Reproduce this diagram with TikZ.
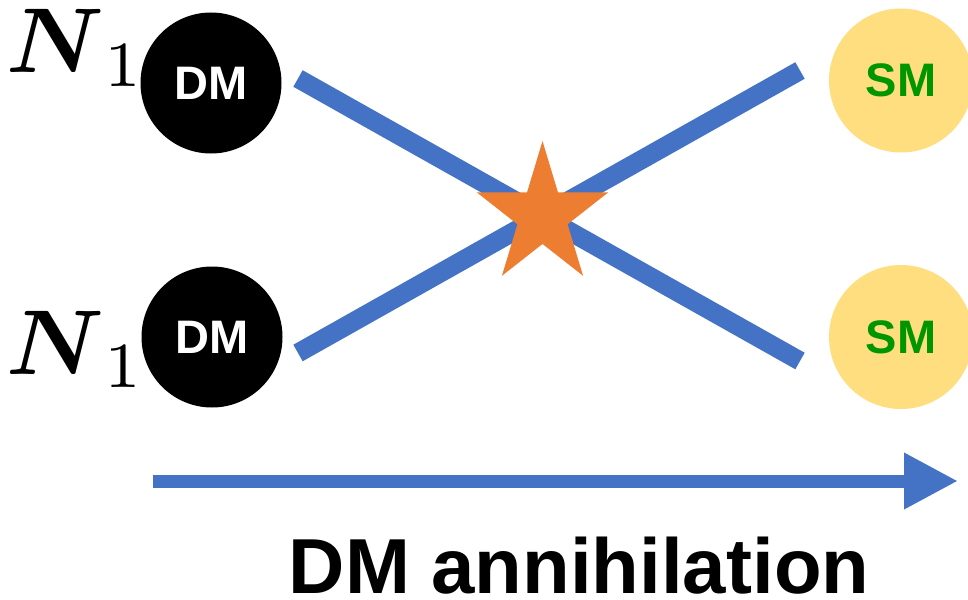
\documentclass[tikz,border=0pt]{standalone}
\usepackage{amsmath}
\usepackage{graphicx}
\usepackage{fontspec}
\newfontfamily\arialfont{Liberation Sans}
\usetikzlibrary{arrows.meta}
\definecolor{lineblue}{HTML}{4472C4}
\definecolor{starorange}{HTML}{ED7D31}
\definecolor{smyellow}{HTML}{FFDE80}
\definecolor{smgreen}{HTML}{009600}
\begin{document}
\begin{tikzpicture}[x=1pt,y=-1pt,
  dmball/.style={circle,fill=black,text=white,minimum size=141pt,inner sep=0pt,
    font=\arialfont\bfseries\fontsize{47}{47}\selectfont},
  smball/.style={circle,fill=smyellow,text=smgreen,minimum size=144pt,inner sep=0pt,
    font=\arialfont\bfseries\fontsize{47}{47}\selectfont},
  nlabel/.style={inner sep=0pt,anchor=base west},
  blueline/.style={draw=lineblue,line width=19pt,line cap=butt},
  timearrow/.style={draw=lineblue,line width=13pt,-{Triangle[length=54pt,width=53pt]}},
  titletext/.style={inner sep=0pt,anchor=base,font=\arialfont\bfseries\fontsize{78}{78}\selectfont}
]
\useasboundingbox (0,0) rectangle (968,599);
% particles
\node[dmball] (dm1) at (211,83) {DM};
\node[dmball] (dm2) at (212,337) {DM};
\node[smball] (sm1) at (901,80.5) {SM};
\node[smball] (sm2) at (901,337) {SM};
% labels
\node[nlabel] (n1) at (6,73) {\scalebox{9.2}{$\boldsymbol{N}_1$}};
\node[nlabel] (n2) at (6,374) {\scalebox{9.2}{$\boldsymbol{N}_1$}};
% crossing lines
\coordinate (a1) at (298,78.5);
\coordinate (b1) at (800,361);
\coordinate (a2) at (298,353);
\coordinate (b2) at (800,70.5);
\draw[blueline] (a1) -- (b1);
\draw[blueline] (a2) -- (b2);
% star vertex
\coordinate (vtx) at (542.5,215.5);
\begin{scope}[shift={(vtx)},xscale=69,yscale=74.5]
\fill[starorange] (-90:1) -- (-54:0.382) -- (-18:1) -- (18:0.382) -- (54:1)
  -- (90:0.382) -- (126:1) -- (162:0.382) -- (198:1) -- (234:0.382) -- cycle;
\end{scope}
% time arrow
\coordinate (t0) at (153,481);
\coordinate (t1) at (958,481);
\draw[timearrow] (t0) -- (t1);
% title
\node[titletext] (title) at (579,593) {DM annihilation};
\end{tikzpicture}
\end{document}
